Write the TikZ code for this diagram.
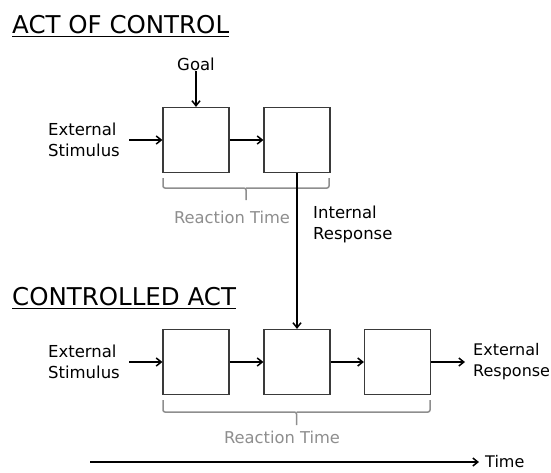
\documentclass[tikz,border=0pt]{standalone}
\usepackage{fontspec}
\setmainfont{DejaVu Sans}
\usetikzlibrary{arrows.meta}
\definecolor{boxc}{HTML}{3A3A3A}
\definecolor{grayc}{HTML}{8E8E8E}
\tikzset{
  blk/.style={draw=boxc, line width=1.2pt, minimum width=66pt, minimum height=65pt, inner sep=0pt},
  arr/.style={draw=black, line width=1.8pt, -{Straight Barb[length=5pt,width=8pt,line width=1.5pt]}},
  lbl/.style={font=\fontsize{16.5}{21}\selectfont, text=black, inner sep=0pt},
  ttl/.style={font=\fontsize{24.5}{28}\selectfont, text=black, inner sep=0pt, anchor=base west},
  brc/.style={draw=grayc, line width=1.5pt, rounded corners=2pt},
  rt/.style={font=\fontsize{16.3}{20}\selectfont, text=grayc, inner sep=0pt},
}
\begin{document}
\begin{tikzpicture}[x=1pt,y=-1pt]
\useasboundingbox (0,0) rectangle (551,472);
% titles
\node[ttl] (t1) at (12,33) {ACT OF CONTROL};
\draw[line width=1.8pt] ([yshift=-3pt]t1.south west) -- ([yshift=-3pt]t1.south east);
\node[ttl] (t2) at (12,305) {CONTROLLED ACT};
\draw[line width=1.8pt] ([yshift=-3pt]t2.south west) -- ([yshift=-3pt]t2.south east);
% top row
\node[blk] (a1) at (196,140) {};
\node[blk] (a2) at (297,140) {};
\node[lbl, anchor=south] (goal) at (196,71) {Goal};
\node[lbl, align=left, anchor=east, inner xsep=9pt] (es1) at (129,140) {External\\Stimulus};
\draw[arr] (goal) -- (a1);
\draw[arr] (es1.east) -- (a1.west);
\draw[arr] (a1) -- (a2);
\draw[brc] (163,178) -- (163,188) -- (246,188) -- (246,200);
\draw[brc] (246,188) -- (329,188) -- (329,178);
\node[rt] (rt1) at (232,217) {Reaction Time};
\node[lbl, align=left, anchor=west] (ir) at (313,224) {Internal\\Response};
% bottom row
\node[blk] (b1) at (196,362) {};
\node[blk] (b2) at (297,362) {};
\node[blk] (b3) at (397.5,362) {};
\node[lbl, align=left, anchor=east, inner xsep=9pt] (es2) at (129,362) {External\\Stimulus};
\node[lbl, align=left, anchor=west, inner xsep=8pt, font=\fontsize{16}{21}\selectfont] (er) at (465,362) {External\\Response};
\draw[arr] (es2.east) -- (b1.west);
\draw[arr] (b1) -- (b2);
\draw[arr] (b2) -- (b3);
\draw[arr] (b3.east) -- (er.west);
\draw[arr] (a2.south) -- (b2.north);
\draw[brc] (163,400) -- (163,412) -- (296.5,412) -- (296.5,425);
\draw[brc] (296.5,412) -- (430,412) -- (430,400);
\node[rt] (rt2) at (282,437) {Reaction Time};
% time axis
\coordinate (t0) at (90,462);
\node[lbl, anchor=west, inner xsep=6pt, font=\fontsize{16}{20}\selectfont] (time) at (479,462) {Time};
\draw[arr, line width=1.5pt] (t0) -- (time.west);
\end{tikzpicture}
\end{document}
